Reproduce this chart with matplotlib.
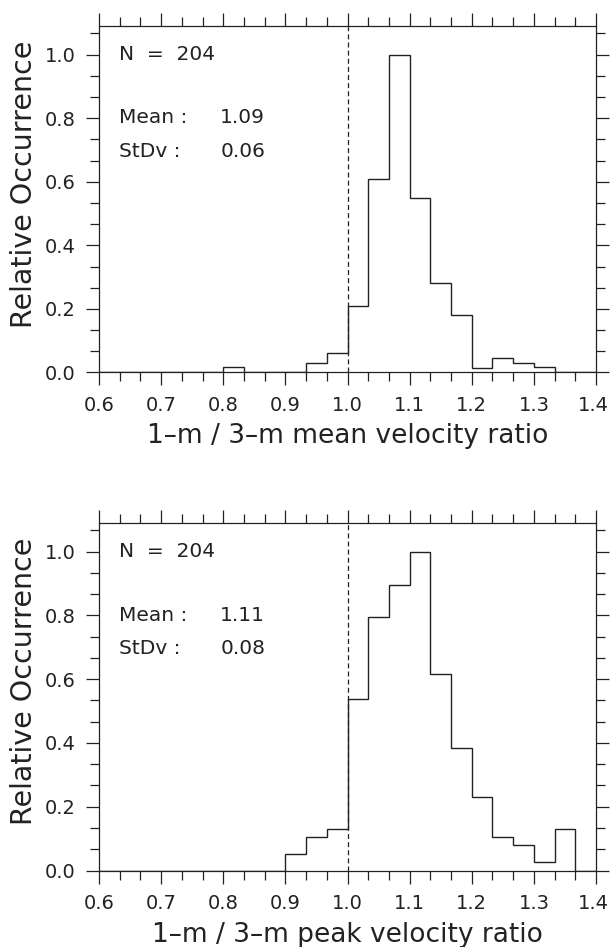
import matplotlib
matplotlib.use("Agg")
import matplotlib.pyplot as plt
import matplotlib.transforms as mtransforms
from matplotlib.ticker import MultipleLocator, FormatStrFormatter

# ---- data -------------------------------------------------------------
bin_edges = [0.6 + k / 30.0 for k in range(25)]   # 24 bins of width 1/30 from 0.6 to 1.4

mean_ratio_rel = [0, 0, 0, 0, 0, 0, 0.016, 0, 0, 0, 0.031, 0.062,
                  0.21, 0.61, 1.0, 0.55, 0.283, 0.18, 0.015, 0.046, 0.031, 0.016, 0, 0]
peak_ratio_rel = [0, 0, 0, 0, 0, 0, 0, 0, 0, 0.053, 0.104, 0.13,
                  0.538, 0.795, 0.897, 1.0, 0.616, 0.385, 0.232, 0.104, 0.079, 0.027, 0.13, 0]

xlabels = ["1\u2013m / 3\u2013m mean velocity ratio",
           "1\u2013m / 3\u2013m peak velocity ratio"]
ylabel = "Relative Occurrence"
n_obs = [204, 204]
means = ["1.09", "1.11"]
stdvs = ["0.06", "0.08"]
ref_line = 1.0

# ---- style -------------------------------------------------------------
INK = "#222222"
plt.rcParams["font.family"] = ["DejaVu Sans"]
plt.rcParams["text.color"] = INK
plt.rcParams["axes.labelcolor"] = INK
plt.rcParams["xtick.color"] = INK
plt.rcParams["ytick.color"] = INK

fig = plt.figure(figsize=(6.10, 9.47), dpi=100)
fig.patch.set_facecolor("white")

rects = [[99 / 610, (947 - 372.5) / 947, 497 / 610, 346.5 / 947],
         [99 / 610, (947 - 870.5) / 947, 497 / 610, 347.5 / 947]]
series = [mean_ratio_rel, peak_ratio_rel]
axes = []

for i in range(2):
    ax = fig.add_axes(rects[i])
    axes.append(ax)
    ax.stairs(series[i], bin_edges, baseline=0, color=INK, linewidth=1.0)
    ax.axvline(ref_line, color=INK, linewidth=0.9, linestyle=(0, (4.0, 2.5)))

    ax.set_xlim(0.6, 1.4)
    ax.set_ylim(0.0, 1.09)
    ax.xaxis.set_major_locator(MultipleLocator(0.1))
    ax.xaxis.set_minor_locator(MultipleLocator(0.1 / 3))
    ax.yaxis.set_major_locator(MultipleLocator(0.2))
    ax.yaxis.set_minor_locator(MultipleLocator(0.2 / 3))
    ax.xaxis.set_major_formatter(FormatStrFormatter("%.1f"))
    ax.yaxis.set_major_formatter(FormatStrFormatter("%.1f"))

    ax.tick_params(which="both", direction="out", top=True, right=True,
                   width=0.9, colors=INK)
    ax.tick_params(which="major", length=9.1, labelsize=14, pad=7.5)
    ax.tick_params(which="minor", length=6.3)
    for s in ax.spines.values():
        s.set_linewidth(0.9)
        s.set_color(INK)

    ax.set_xlabel(xlabels[i], fontsize=19, va="baseline")
    ax.xaxis.set_label_coords(0.5, -71.0 / 347.0)
    ax.set_ylabel(ylabel, fontsize=20.5, va="baseline")
    ax.yaxis.set_label_coords(-67.0 / 497.0, 0.543)

    ax.text(0.040, 0.902, "N  =  %d" % n_obs[i], transform=ax.transAxes,
            fontsize=14.5, va="baseline", ha="left")
    ax.text(0.040, 0.719, "Mean :", transform=ax.transAxes,
            fontsize=14.5, va="baseline", ha="left")
    ax.text(0.040, 0.622, "StDv :", transform=ax.transAxes,
            fontsize=14.5, va="baseline", ha="left")
    ax.text(0.244, 0.719, means[i], transform=ax.transAxes,
            fontsize=14.5, va="baseline", ha="left")
    ax.text(0.244, 0.622, stdvs[i], transform=ax.transAxes,
            fontsize=14.5, va="baseline", ha="left")

# keep the last x tick label ("1.4") inside the figure edge
fig.canvas.draw()
for ax in axes:
    for tick in ax.xaxis.get_major_ticks():
        if abs(tick.get_loc() - 1.4) < 1e-6:
            lab = tick.label1
            lab.set_transform(lab.get_transform() +
                              mtransforms.ScaledTranslation(-3 / 100, 0, fig.dpi_scale_trans))

fig.savefig("out.png", dpi=100, facecolor="white")
